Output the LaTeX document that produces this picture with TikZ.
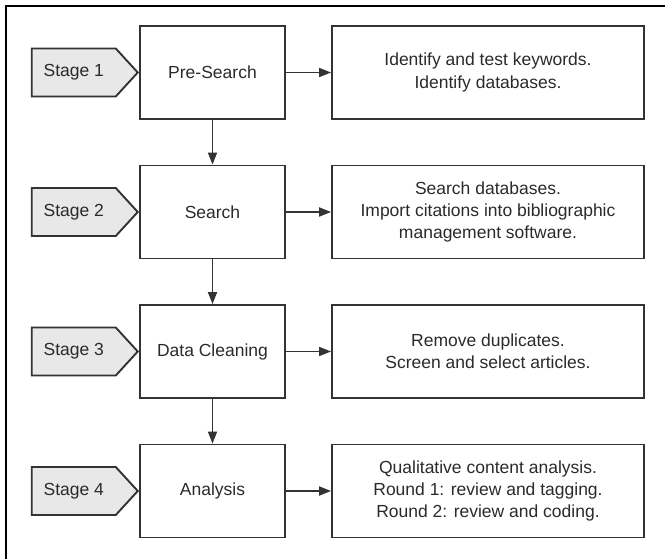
\documentclass[tikz,border=0pt]{standalone}
\usepackage{fontspec}
\setmainfont{Liberation Sans}
\usepackage{tikz}
\usetikzlibrary{arrows.meta, shapes.symbols}
\usepackage{xcolor}
\definecolor{boxgray}{HTML}{333333}
\definecolor{stagefill}{HTML}{E8E8E8}
\definecolor{txtgray}{HTML}{2A2A2A}

\begin{document}
\begin{tikzpicture}[x=1pt, y=-1pt,
  phase/.style={rectangle, draw=boxgray, line width=1.9pt,
                minimum width=145pt, minimum height=93pt,
                align=center, text=txtgray,
                font=\fontsize{17.5}{22.4}\selectfont},
  task/.style={phase, minimum width=312pt},
  stg/.style={signal, signal to=east, signal pointer angle=95,
              draw=boxgray, fill=stagefill, line width=1.9pt,
              minimum width=106pt, minimum height=48pt, inner sep=0pt,
              text=txtgray, font=\fontsize{17.5}{22.4}\selectfont},
  arr/.style={-{Triangle[length=12pt, width=9pt]}, line width=1.9pt, boxgray},
]
  \useasboundingbox (0,0) rectangle (665,559);
  % frame (cut at right and bottom)
  \draw[line width=2.6pt, line join=miter] (6,559) -- (6,6) -- (665,6);

  % phases
  \node[phase] (p1) at (212.5, 72.5) {Pre-Search};
  \node[phase] (p2) at (212.5, 212)  {Search};
  \node[phase] (p3) at (212.5, 351.5) {Data Cleaning};
  \node[phase] (p4) at (212.5, 491)  {Analysis};

  % what is done in each phase
  \node[task] (t1) at (488, 72.5)
    {Identify and test keywords.\\ Identify databases.};
  \node[task] (t2) at (488, 212)
    {Search databases.\\ Import citations into bibliographic\\ management software.};
  \node[task] (t3) at (488, 351.5)
    {Remove duplicates.\\ Screen and select articles.};
  \node[task] (t4) at (488, 491)
    {Qualitative content analysis.\\ Round 1: review and tagging.\\ Round 2: review and coding.};

  % stage tags
  \node[stg, anchor=east] (s1) at (p1.west) {Stage 1};
  \node[stg, anchor=east] (s2) at (p2.west) {Stage 2};
  \node[stg, anchor=east] (s3) at (p3.west) {Stage 3};
  \node[stg, anchor=east] (s4) at (p4.west) {Stage 4};

  \draw[arr] (p1) -- (t1);
  \draw[arr] (p2) -- (t2);
  \draw[arr] (p3) -- (t3);
  \draw[arr] (p4) -- (t4);

  \draw[arr] (p1) -- (p2);
  \draw[arr] (p2) -- (p3);
  \draw[arr] (p3) -- (p4);
\end{tikzpicture}
\end{document}
